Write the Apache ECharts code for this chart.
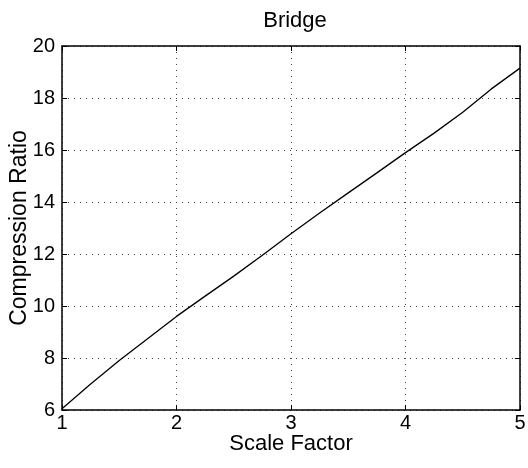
<!DOCTYPE html>
<html>
<head>
<meta charset="utf-8">
<script src="https://cdn.jsdelivr.net/npm/echarts@6/dist/echarts.min.js"></script>
<style>
  html, body { margin: 0; padding: 0; background: #fff; }
  #chart { width: 528px; height: 468px; }
</style>
</head>
<body>
<div id="chart"></div>
<script>
// values
const scaleFactor = [1, 1.25, 1.5, 1.75, 2, 2.25, 2.5, 2.75, 3, 3.25, 3.5, 3.75, 4, 4.25, 4.5, 4.75, 5];
const compressionRatio = [6.05, 7.0, 7.9, 8.75, 9.6, 10.38, 11.15, 11.95, 12.78, 13.58, 14.35, 15.12, 15.9, 16.65, 17.45, 18.35, 19.15];
const xRange = [1, 5];
const yRange = [6, 20];

const font = '"Liberation Sans", Arial, Helvetica, sans-serif';
const points = scaleFactor.map((x, i) => [x, compressionRatio[i]]);

const chart = echarts.init(document.getElementById('chart'));

// shared inward ticks, like a matlab box
const tick = { show: true, inside: true, length: 5, lineStyle: { color: '#000', width: 1 } };
const grid = { show: true, lineStyle: { color: '#444', width: 1, type: [1, 5] } };
const axisLine = { show: true, onZero: false, lineStyle: { color: '#000', width: 1.5 } };

chart.setOption({
  animation: false,
  backgroundColor: '#fff',
  title: {
    text: 'Bridge',
    left: 290,
    top: 5,
    textAlign: 'center',
    textStyle: { fontFamily: font, fontSize: 22, fontWeight: 'normal', color: '#000' },
  },
  grid: { left: 62, right: 8, top: 46, bottom: 58, outerBoundsMode: 'none', containLabel: false },
  xAxis: [
    {
      type: 'value',
      min: xRange[0],
      max: xRange[1],
      interval: 1,
      name: 'Scale Factor',
      nameLocation: 'middle',
      nameGap: 23,
      nameMoveOverlap: false,
      nameTextStyle: { fontFamily: font, fontSize: 22, color: '#000' },
      axisLine: axisLine,
      axisTick: tick,
      axisLabel: { fontFamily: font, fontSize: 20, color: '#000', margin: 3 },
      splitLine: grid,
    },
    {
      type: 'value',
      position: 'top',
      min: xRange[0],
      max: xRange[1],
      interval: 1,
      axisLine: axisLine,
      axisTick: tick,
      axisLabel: { show: false },
      splitLine: { show: false },
    },
  ],
  yAxis: [
    {
      type: 'value',
      min: yRange[0],
      max: yRange[1],
      interval: 2,
      name: 'Compression Ratio',
      nameLocation: 'middle',
      nameGap: 31,
      nameMoveOverlap: false,
      nameTextStyle: { fontFamily: font, fontSize: 23, color: '#000' },
      axisLine: axisLine,
      axisTick: tick,
      axisLabel: { fontFamily: font, fontSize: 20, color: '#000', margin: 7 },
      splitLine: grid,
    },
    {
      type: 'value',
      position: 'right',
      min: yRange[0],
      max: yRange[1],
      interval: 2,
      axisLine: axisLine,
      axisTick: tick,
      axisLabel: { show: false },
      splitLine: { show: false },
    },
  ],
  series: [
    {
      type: 'line',
      data: points,
      showSymbol: false,
      symbol: 'none',
      lineStyle: { color: '#000', width: 1.3 },
    },
  ],
});
</script>
</body>
</html>
